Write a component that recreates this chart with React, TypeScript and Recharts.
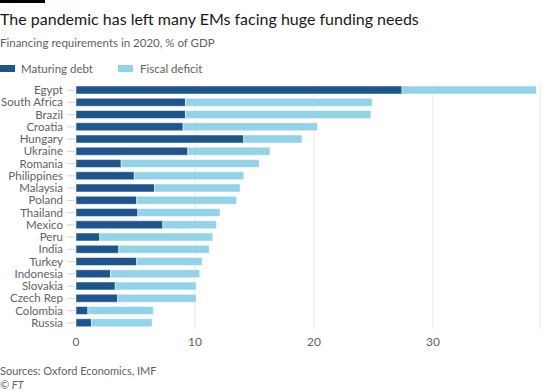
import { BarChart, Bar, XAxis, YAxis, CartesianGrid } from 'recharts';

const countries = [
    'Egypt', 'South Africa', 'Brazil', 'Croatia', 'Hungary', 'Ukraine', 'Romania',
    'Philippines', 'Malaysia', 'Poland', 'Thailand', 'Mexico', 'Peru', 'India',
    'Turkey', 'Indonesia', 'Slovakia', 'Czech Rep', 'Colombia', 'Russia',
];
const maturingDebt = [
    27.4, 9.2, 9.2, 9.0, 14.1, 9.4, 3.8, 4.9, 6.6, 5.1,
    5.2, 7.3, 2.0, 3.6, 5.1, 2.9, 3.3, 3.5, 1.0, 1.3,
];
const fiscalDeficit = [
    11.3, 15.7, 15.6, 11.3, 4.9, 6.9, 11.6, 9.2, 7.2, 8.4,
    6.9, 4.5, 9.5, 7.6, 5.5, 7.5, 6.8, 6.6, 5.5, 5.1,
];
const xTicks = [0, 10, 20, 30];

const data = countries.map((name, i) => ({
    name,
    debt: maturingDebt[i],
    deficit: fiscalDeficit[i],
}));

const DARK = '#1e558c';
const LIGHT = '#93d3e7';
const GREY = '#66605c';
const FONT = 'Lato, "Noto Sans", sans-serif';

// plain tick so long names like "South Africa" stay on one line
function CountryTick({ x, y, payload }: any) {
    return (
        <g>
            <line x1={x - 9} x2={x - 1} y1={y} y2={y} stroke="#d9d1cb" />
            <text x={x - 13} y={y} dy="0.35em" textAnchor="end" fill={GREY} fontSize={11.5} fontFamily={FONT}>
                {payload.value}
            </text>
        </g>
    );
}

export default function App() {
    return (
        <div style={{ position: 'absolute', left: 0, top: 0, width: 550, height: 392, background: '#fff', fontFamily: FONT, overflow: 'hidden' }}>
            <div style={{ position: 'absolute', left: 0, top: 0, width: 45, height: 3, background: '#000' }} />
            <div style={{ position: 'absolute', left: 0, top: 9, fontSize: 16, color: '#1a1817', whiteSpace: 'nowrap' }}>
                The pandemic has left many EMs facing huge funding needs
            </div>
            <div style={{ position: 'absolute', left: 0, top: 36, fontSize: 11.5, color: GREY, whiteSpace: 'nowrap' }}>
                Financing requirements in 2020, % of GDP
            </div>
            <div style={{ position: 'absolute', left: 0, top: 62, fontSize: 11.5, color: GREY, display: 'flex', alignItems: 'center' }}>
                <span style={{ width: 15, height: 7, background: DARK, marginRight: 6 }} />
                <span style={{ marginRight: 25 }}>Maturing debt</span>
                <span style={{ width: 15, height: 7, background: LIGHT, marginRight: 7 }} />
                <span>Fiscal deficit</span>
            </div>
            <div style={{ position: 'absolute', left: 0, top: 80 }}>
                <BarChart
                    width={550}
                    height={270}
                    data={data}
                    layout="vertical"
                    margin={{ top: 4, right: 10, left: 0, bottom: 0 }}
                    barCategoryGap={2}
                >
                    <CartesianGrid horizontal={false} stroke="#efe5de" />
                    <XAxis
                        type="number"
                        domain={[0, 39]}
                        ticks={xTicks}
                        axisLine={false}
                        tickLine={false}
                        tick={{ fill: GREY, fontSize: 12, fontFamily: FONT }}
                        height={21}
                    />
                    <YAxis
                        type="category"
                        dataKey="name"
                        width={76}
                        axisLine={false}
                        tickLine={false}
                        tickSize={0}
                        tickMargin={0}
                        interval={0}
                        tick={<CountryTick />}
                    />
                    <Bar dataKey="debt" stackId="a" fill={DARK} stroke="#ffffff" strokeWidth={0.5} isAnimationActive={false} />
                    <Bar dataKey="deficit" stackId="a" fill={LIGHT} stroke="#ffffff" strokeWidth={0.5} isAnimationActive={false} />
                </BarChart>
            </div>
            <div style={{ position: 'absolute', left: 0, top: 364, fontSize: 11, color: GREY, whiteSpace: 'nowrap' }}>
                Sources: Oxford Economics, IMF
            </div>
            <div style={{ position: 'absolute', left: 0, top: 378, fontSize: 11, color: GREY, fontStyle: 'italic' }}>
                © FT
            </div>
        </div>
    );
}
